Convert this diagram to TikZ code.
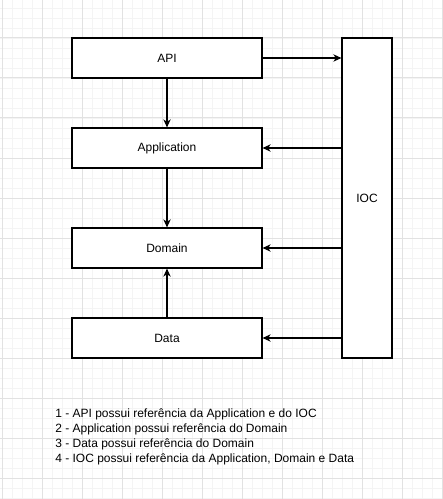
\documentclass[tikz,border=0pt]{standalone}
\usepackage{fontspec}
\setmainfont{Liberation Sans}
\usetikzlibrary{arrows.meta}
\begin{document}
\begin{tikzpicture}[x=0.75pt,y=-0.75pt,
  box/.style={draw=black,line width=0.9pt,fill=white,inner sep=0pt,font=\fontsize{9}{11}\selectfont},
  conn/.style={line width=0.9pt,-{Stealth[length=6pt,width=5.5pt,inset=1.8pt]}},
  minorgrid/.style={draw={rgb,255:red,244;green,244;blue,244},line width=0.6pt},
  majorgrid/.style={draw={rgb,255:red,226;green,226;blue,226},line width=0.75pt}]
\useasboundingbox (0,0) rectangle (442,499);
\fill[white] (0,0) rectangle (442,499);
% minor grid
\foreach \x in {2,12,...,442} \draw[minorgrid] (\x,0) -- (\x,499);
\foreach \y in {8,18,...,498} \draw[minorgrid] (0,\y) -- (442,\y);
% major grid
\foreach \x in {2,42,...,442} \draw[majorgrid] (\x,0) -- (\x,499);
\foreach \y in {38,78,...,478} \draw[majorgrid] (0,\y) -- (442,\y);
% boxes
\node[box,minimum width=190*0.75pt,minimum height=40*0.75pt] (api) at (167,58) {API};
\node[box,minimum width=190*0.75pt,minimum height=40*0.75pt] (app) at (167,148) {Application};
\node[box,minimum width=190*0.75pt,minimum height=40*0.75pt] (dom) at (167,248) {Domain};
\node[box,minimum width=190*0.75pt,minimum height=40*0.75pt] (data) at (167,338) {Data};
\node[box,minimum width=50*0.75pt,minimum height=320*0.75pt] (ioc) at (367,198) {IOC};
% connectors
\draw[conn] (api.south) -- (app.north);
\draw[conn] (app.south) -- (dom.north);
\draw[conn] (data.north) -- (dom.south);
\draw[conn] (api.east) -- (api.east -| ioc.west);
\draw[conn] (app.east -| ioc.west) -- (app.east);
\draw[conn] (dom.east -| ioc.west) -- (dom.east);
\draw[conn] (data.east -| ioc.west) -- (data.east);
% legend
\node[anchor=north west,align=left,inner sep=0pt,font=\fontsize{9}{11.25}\selectfont] (legend) at (55,408)
{1 - API possui referência da Application e do IOC\\
2 - Application possui referência do Domain\\
3 - Data possui referência do Domain\\
4 - IOC possui referência da Application, Domain e Data};
\end{tikzpicture}
\end{document}
